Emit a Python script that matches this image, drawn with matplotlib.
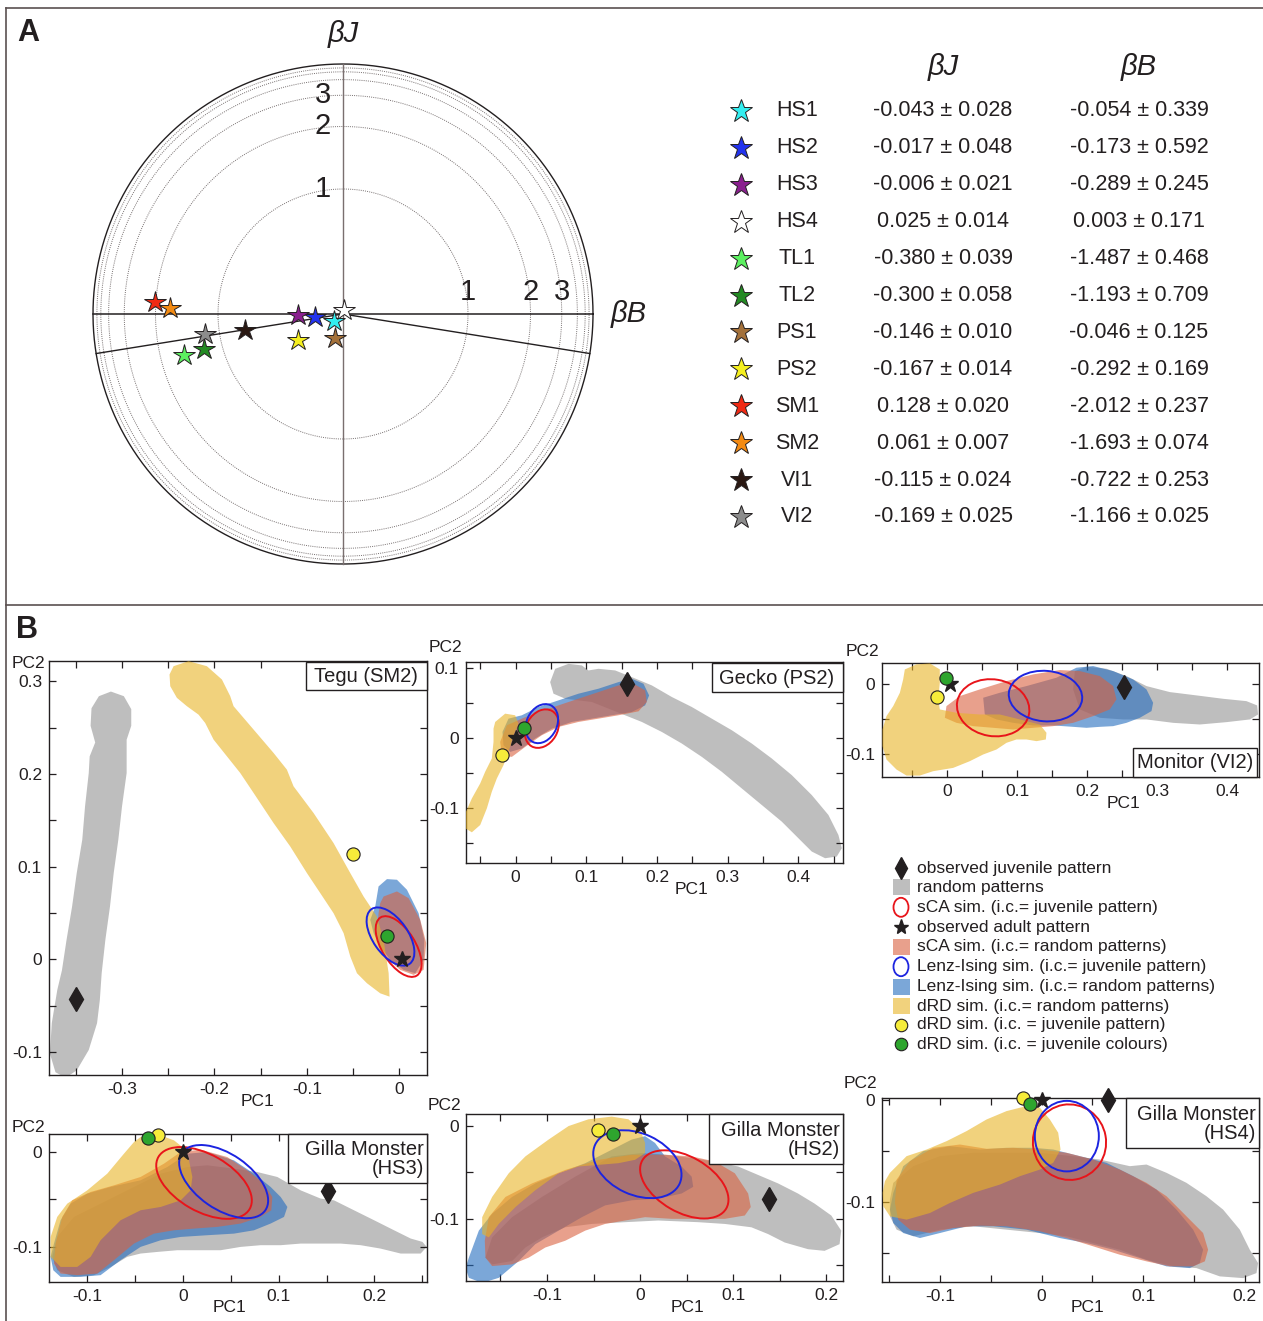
import numpy as np
import matplotlib.pyplot as plt
from matplotlib.patches import Polygon, Ellipse, Rectangle
from matplotlib.ticker import MultipleLocator, FuncFormatter

plt.rcParams['font.family'] = ['Liberation Sans', 'DejaVu Sans']
plt.rcParams['axes.unicode_minus'] = False

W, H = 1263, 1321
INK = '#231f20'
FRAME = '#5a5050'

# ---------------- panel A data ----------------
names = ['HS1', 'HS2', 'HS3', 'HS4', 'TL1', 'TL2', 'PS1', 'PS2', 'SM1', 'SM2', 'VI1', 'VI2']
beta_j = [-0.043, -0.017, -0.006, 0.025, -0.380, -0.300, -0.146, -0.167, 0.128, 0.061, -0.115, -0.169]
beta_j_err = [0.028, 0.048, 0.021, 0.014, 0.039, 0.058, 0.010, 0.014, 0.020, 0.007, 0.024, 0.025]
beta_b = [-0.054, -0.173, -0.289, 0.003, -1.487, -1.193, -0.046, -0.292, -2.012, -1.693, -0.722, -1.166]
beta_b_err = [0.339, 0.592, 0.245, 0.171, 0.468, 0.709, 0.125, 0.169, 0.237, 0.074, 0.253, 0.025]
star_colors = ['#33eef0', '#2233ee', '#8a1f8f', '#ffffff', '#5cf060', '#238a23',
               '#a4713a', '#f5ef1e', '#f02a14', '#f38a12', '#2a1812', '#8c8c8c']
ring_values = [1, 2, 3, 4, 5, 6]
ring_labels = [1, 2, 3]

# ---------------- panel B data (PC1, PC2) ----------------
tegu_gray = [(-0.312, 0.289), (-0.298, 0.284), (-0.290, 0.270), (-0.290, 0.252), (-0.295, 0.237),
             (-0.295, 0.223), (-0.295, 0.201), (-0.300, 0.165), (-0.304, 0.129), (-0.309, 0.093),
             (-0.313, 0.057), (-0.318, 0.021), (-0.322, -0.015), (-0.324, -0.044), (-0.327, -0.069),
             (-0.336, -0.098), (-0.349, -0.120), (-0.361, -0.128), (-0.372, -0.122), (-0.378, -0.102),
             (-0.376, -0.069), (-0.370, -0.033), (-0.365, -0.012), (-0.360, 0.021), (-0.354, 0.057),
             (-0.349, 0.093), (-0.343, 0.129), (-0.340, 0.165), (-0.336, 0.201), (-0.335, 0.219),
             (-0.329, 0.234), (-0.334, 0.252), (-0.333, 0.271), (-0.325, 0.284)]
tegu_yellow = [(-0.2486, 0.3074), (-0.2442, 0.3164), (-0.2280, 0.3218), (-0.2082, 0.3164), (-0.1919, 0.3020),
               (-0.1829, 0.2840), (-0.1793, 0.2732), (-0.1576, 0.2479), (-0.1360, 0.2227), (-0.1216, 0.2047),
               (-0.1144, 0.1867), (-0.0927, 0.1578), (-0.0711, 0.1254), (-0.0530, 0.0930), (-0.0386, 0.0677),
               (-0.0242, 0.0461), (-0.0170, 0.0209), (-0.0115, -0.0151), (-0.0105, -0.0404), (-0.0206, -0.0368),
               (-0.0350, -0.0259), (-0.0458, -0.0151), (-0.0530, 0.0029), (-0.0602, 0.0281), (-0.0711, 0.0497),
               (-0.0855, 0.0714), (-0.0999, 0.0930), (-0.1180, 0.1218), (-0.1360, 0.1470), (-0.1576, 0.1795),
               (-0.1721, 0.2011), (-0.1865, 0.2191), (-0.2009, 0.2371), (-0.2100, 0.2551), (-0.2172, 0.2641),
               (-0.2298, 0.2732), (-0.2406, 0.2822), (-0.2478, 0.2948)]
tegu_blue = [(-0.0224, 0.0786), (-0.0133, 0.0865), (-0.0025, 0.0858), (0.0083, 0.0750), (0.0209, 0.0497),
             (0.0271, 0.0209), (0.0263, -0.0007), (0.0173, -0.0151), (0.0047, -0.0115), (-0.0097, -0.0007),
             (-0.0206, 0.0137), (-0.0278, 0.0281), (-0.0314, 0.0425), (-0.0260, 0.0569), (-0.0242, 0.0677)]
tegu_red = [(-0.0170, 0.0677), (-0.0025, 0.0732), (0.0101, 0.0659), (0.0227, 0.0425), (0.0292, 0.0173),
            (0.0263, -0.0115), (0.0155, -0.0169), (0.0011, -0.0115), (-0.0115, -0.0007), (-0.0206, 0.0137),
            (-0.0242, 0.0281), (-0.0224, 0.0497), (-0.0206, 0.0605)]
tegu_sca_ring = (-0.0007, 0.0137, 0.074, 0.036, -58)
tegu_ising_ring = (-0.0095, 0.0245, 0.072, 0.038, -55)
tegu_points = {'juvenile': (-0.350, -0.043), 'adult': (0.003, 0.0),
               'drd_pattern': (-0.0505, 0.114), 'drd_colours': (-0.013, 0.025)}

gecko_gray = [(0.0490, 0.0794), (0.0561, 0.0983), (0.0749, 0.1054), (0.0938, 0.1031), (0.1032, 0.0960),
              (0.1173, 0.0983), (0.1409, 0.0960), (0.1644, 0.0865), (0.1927, 0.0747), (0.2210, 0.0582),
              (0.2492, 0.0440), (0.2775, 0.0274), (0.3058, 0.0109), (0.3340, -0.0080), (0.3623, -0.0293),
              (0.3906, -0.0530), (0.4188, -0.0813), (0.4424, -0.1097), (0.4565, -0.1381), (0.4613, -0.1570),
              (0.4542, -0.1688), (0.4377, -0.1712), (0.4188, -0.1617), (0.4000, -0.1428), (0.3764, -0.1191),
              (0.3482, -0.0955), (0.3199, -0.0719), (0.2916, -0.0482), (0.2634, -0.0270), (0.2351, -0.0080),
              (0.2068, 0.0085), (0.1786, 0.0227), (0.1550, 0.0322), (0.1079, 0.0511), (0.0702, 0.0558),
              (0.0537, 0.0629)]
gecko_blue = [(-0.0184, 0.0085), (-0.0099, 0.0274), (0.0090, 0.0322), (0.0325, 0.0440), (0.0608, 0.0534),
              (0.0890, 0.0629), (0.1173, 0.0700), (0.1456, 0.0794), (0.1644, 0.0842), (0.1809, 0.0771),
              (0.1889, 0.0605), (0.1833, 0.0463), (0.1644, 0.0369), (0.1362, 0.0322), (0.1079, 0.0274),
              (0.0796, 0.0227), (0.0514, 0.0132), (0.0278, -0.0009), (0.0090, -0.0151), (-0.0075, -0.0199),
              (-0.0170, -0.0104)]
gecko_red = [(-0.0217, -0.0057), (-0.0122, 0.0180), (0.0090, 0.0274), (0.0325, 0.0369), (0.0608, 0.0463),
             (0.0890, 0.0558), (0.1173, 0.0652), (0.1456, 0.0747), (0.1668, 0.0771), (0.1833, 0.0676),
             (0.1856, 0.0511), (0.1739, 0.0378), (0.1456, 0.0322), (0.1173, 0.0274), (0.0890, 0.0227),
             (0.0608, 0.0156), (0.0372, 0.0038), (0.0137, -0.0128), (-0.0052, -0.0270), (-0.0193, -0.0246)]
gecko_yellow = [(-0.0311, 0.0132), (-0.0287, 0.0227), (-0.0146, 0.0345), (-0.0005, 0.0322), (0.0042, 0.0203),
                (-0.0028, 0.0038), (-0.0099, -0.0199), (-0.0170, -0.0388), (-0.0264, -0.0577), (-0.0335, -0.0766),
                (-0.0405, -0.1002), (-0.0499, -0.1239), (-0.0617, -0.1343), (-0.0711, -0.1286), (-0.0721, -0.1097),
                (-0.0617, -0.0861), (-0.0499, -0.0648), (-0.0429, -0.0482), (-0.0335, -0.0293), (-0.0311, -0.0057)]
gecko_sca_ring = (0.0372, 0.0132, 0.058, 0.044, 60)
gecko_ising_ring = (0.0372, 0.0203, 0.058, 0.043, 65)
gecko_points = {'juvenile': (0.157, 0.077), 'adult': (0.0, 0.0),
                'drd_pattern': (-0.019, -0.024), 'drd_colours': (0.012, 0.014)}

monitor_yellow = [(-0.0604, 0.0217), (-0.0438, 0.0290), (-0.0247, 0.0304), (-0.0105, 0.0217), (-0.0105, 0.0024),
                  (-0.0128, -0.0217), (-0.0105, -0.0362), (0.0133, -0.0411), (0.0466, -0.0435), (0.0751, -0.0435),
                  (0.1037, -0.0507), (0.1322, -0.0580), (0.1417, -0.0700), (0.1408, -0.0797), (0.1275, -0.0821),
                  (0.1132, -0.0797), (0.0989, -0.0797), (0.0847, -0.0845), (0.0704, -0.0942), (0.0514, -0.1014),
                  (0.0323, -0.1111), (0.0086, -0.1208), (-0.0200, -0.1256), (-0.0390, -0.1319), (-0.0580, -0.1319),
                  (-0.0723, -0.1232), (-0.0866, -0.1087), (-0.0923, -0.0894), (-0.0923, -0.0652), (-0.0866, -0.0459),
                  (-0.0770, -0.0314), (-0.0675, -0.0121), (-0.0628, 0.0072)]
monitor_red = [(-0.0033, -0.0483), (-0.0010, -0.0314), (0.0181, -0.0169), (0.0466, -0.0072), (0.0847, 0.0048),
               (0.1227, 0.0145), (0.1608, 0.0208), (0.1893, 0.0193), (0.2178, 0.0121), (0.2369, -0.0024),
               (0.2416, -0.0217), (0.2321, -0.0362), (0.2083, -0.0459), (0.1798, -0.0556), (0.1512, -0.0604),
               (0.1227, -0.0628), (0.0942, -0.0652), (0.0656, -0.0628), (0.0371, -0.0604), (0.0133, -0.0556)]
monitor_blue = [(0.0514, -0.0193), (0.0751, -0.0121), (0.1132, -0.0024), (0.1560, 0.0097), (0.1845, 0.0242),
                (0.2083, 0.0266), (0.2369, 0.0193), (0.2654, 0.0072), (0.2844, -0.0072), (0.2939, -0.0266),
                (0.2916, -0.0386), (0.2749, -0.0483), (0.2559, -0.0556), (0.2369, -0.0604), (0.2178, -0.0614),
                (0.1988, -0.0628), (0.1798, -0.0614), (0.1512, -0.0594), (0.1227, -0.0594), (0.0942, -0.0556),
                (0.0704, -0.0507), (0.0537, -0.0435)]
monitor_gray = [(0.1822, 0.0193), (0.1988, 0.0256), (0.2273, 0.0227), (0.2559, 0.0121), (0.2844, -0.0024),
                (0.3177, -0.0111), (0.3558, -0.0159), (0.3938, -0.0208), (0.4271, -0.0242), (0.4423, -0.0304),
                (0.4437, -0.0435), (0.4319, -0.0507), (0.3986, -0.0546), (0.3605, -0.0580), (0.3225, -0.0556),
                (0.2844, -0.0507), (0.2511, -0.0507), (0.2178, -0.0483), (0.1893, -0.0362), (0.1798, -0.0072)]
monitor_sca_ring = (0.0656, -0.0338, 0.104, 0.082, -10)
monitor_ising_ring = (0.1403, -0.0169, 0.105, 0.073, -5)
monitor_points = {'juvenile': (0.252, -0.004), 'adult': (0.004, 0.0),
                  'drd_pattern': (-0.014, -0.018), 'drd_colours': (-0.002, 0.009)}

hs3_gray = [(0.0045, -0.0158), (0.0254, -0.0140), (0.0533, -0.0175), (0.0777, -0.0211), (0.0986, -0.0263),
            (0.1230, -0.0404), (0.1439, -0.0491), (0.1578, -0.0509), (0.1787, -0.0614), (0.1997, -0.0719),
            (0.2206, -0.0825), (0.2380, -0.0912), (0.2502, -0.0947), (0.2547, -0.1000), (0.2484, -0.1070),
            (0.2275, -0.1070), (0.2066, -0.1018), (0.1857, -0.0982), (0.1648, -0.0965), (0.1439, -0.0965),
            (0.1230, -0.0965), (0.1021, -0.0982), (0.0812, -0.0982), (0.0603, -0.1000), (0.0394, -0.1035),
            (0.0185, -0.1035), (-0.0059, -0.1035), (-0.0268, -0.1053), (-0.0443, -0.1070), (-0.0582, -0.1105),
            (-0.0756, -0.1211), (-0.0930, -0.1298), (-0.1139, -0.1316), (-0.1314, -0.1246), (-0.1366, -0.1105),
            (-0.1314, -0.0895), (-0.1139, -0.0684), (-0.0861, -0.0544), (-0.0512, -0.0368), (-0.0233, -0.0228)]
hs3_blue = [(-0.1383, -0.1105), (-0.1348, -0.0965), (-0.1279, -0.0719), (-0.1174, -0.0544), (-0.1000, -0.0439),
            (-0.0756, -0.0368), (-0.0443, -0.0298), (-0.0164, -0.0158), (0.0045, -0.0018), (0.0254, 0.0),
            (0.0533, -0.0088), (0.0742, -0.0228), (0.0916, -0.0368), (0.1021, -0.0474), (0.1091, -0.0579),
            (0.1056, -0.0684), (0.0916, -0.0754), (0.0742, -0.0825), (0.0533, -0.0860), (0.0254, -0.0877),
            (-0.0024, -0.0895), (-0.0233, -0.0930), (-0.0443, -0.1000), (-0.0652, -0.1140), (-0.0861, -0.1298),
            (-0.1070, -0.1316), (-0.1279, -0.1316), (-0.1355, -0.1246)]
hs3_red = [(-0.1348, -0.1175), (-0.1331, -0.0965), (-0.1261, -0.0684), (-0.1157, -0.0509), (-0.0965, -0.0421),
           (-0.0721, -0.0351), (-0.0443, -0.0263), (-0.0199, -0.0123), (-0.0024, 0.0), (0.0185, 0.0025),
           (0.0463, -0.0053), (0.0672, -0.0193), (0.0847, -0.0333), (0.0934, -0.0474), (0.0923, -0.0614),
           (0.0812, -0.0684), (0.0603, -0.0754), (0.0359, -0.0789), (0.0115, -0.0807), (-0.0094, -0.0825),
           (-0.0303, -0.0860), (-0.0512, -0.0965), (-0.0721, -0.1140), (-0.0895, -0.1281), (-0.1105, -0.1298),
           (-0.1279, -0.1281)]
hs3_yellow = [(-0.0512, 0.0105), (-0.0443, 0.0158), (-0.0233, 0.0175), (-0.0094, 0.0123), (-0.0007, 0.0053),
              (0.0063, -0.0088), (0.0098, -0.0263), (0.0080, -0.0404), (-0.0024, -0.0509), (-0.0233, -0.0579),
              (-0.0443, -0.0614), (-0.0652, -0.0719), (-0.0861, -0.0930), (-0.0965, -0.1105), (-0.1105, -0.1211),
              (-0.1279, -0.1211), (-0.1383, -0.1105), (-0.1383, -0.0895), (-0.1314, -0.0684), (-0.1209, -0.0544),
              (-0.1000, -0.0404), (-0.0791, -0.0228), (-0.0617, -0.0018)]
hs3_sca_ring = (0.0220, -0.0326, 0.110, 0.060, -30)
hs3_ising_ring = (0.0425, -0.0312, 0.106, 0.058, -35)
hs3_points = {'juvenile': (0.152, -0.041), 'adult': (0.0, 0.0),
              'drd_pattern': (-0.026, 0.018), 'drd_colours': (-0.037, 0.015)}

hs2_gray = [(-0.0696, -0.0545), (-0.0304, -0.0327), (0.0018, -0.0291), (0.0268, -0.0309), (0.0554, -0.0345),
            (0.0804, -0.0382), (0.1054, -0.0436), (0.1268, -0.0527), (0.1482, -0.0618), (0.1696, -0.0727),
            (0.1875, -0.0836), (0.2054, -0.0964), (0.2161, -0.1127), (0.2143, -0.1273), (0.1982, -0.1345),
            (0.1804, -0.1327), (0.1554, -0.1255), (0.1375, -0.1164), (0.1196, -0.1091), (0.0911, -0.1055),
            (0.0625, -0.1036), (0.0196, -0.1018), (-0.0161, -0.1036), (-0.0518, -0.1055), (-0.0804, -0.1091),
            (-0.1054, -0.1200), (-0.1232, -0.1309), (-0.1375, -0.1455), (-0.1589, -0.1491), (-0.1661, -0.1418),
            (-0.1589, -0.1200), (-0.1375, -0.0982), (-0.1054, -0.0764)]
hs2_blue = [(-0.1875, -0.1527), (-0.1839, -0.1418), (-0.1732, -0.1127), (-0.1589, -0.0945), (-0.1375, -0.0764),
            (-0.1125, -0.0618), (-0.0875, -0.0509), (-0.0589, -0.0400), (-0.0304, -0.0255), (-0.0089, -0.0145),
            (0.0054, -0.0109), (0.0161, -0.0182), (0.0268, -0.0327), (0.0446, -0.0436), (0.0554, -0.0545),
            (0.0571, -0.0655), (0.0446, -0.0727), (0.0196, -0.0782), (-0.0089, -0.0800), (-0.0375, -0.0855),
            (-0.0625, -0.0982), (-0.0875, -0.1127), (-0.1125, -0.1273), (-0.1304, -0.1455), (-0.1518, -0.1636),
            (-0.1696, -0.1691), (-0.1839, -0.1636)]
hs2_red = [(-0.1668, -0.1236), (-0.1625, -0.0982), (-0.1446, -0.0764), (-0.1161, -0.0618), (-0.0804, -0.0473),
           (-0.0446, -0.0364), (-0.0089, -0.0309), (0.0268, -0.0309), (0.0554, -0.0327), (0.0804, -0.0382),
           (0.1018, -0.0509), (0.1161, -0.0727), (0.1189, -0.0873), (0.1125, -0.0964), (0.0911, -0.1000),
           (0.0625, -0.1000), (0.0339, -0.1000), (0.0054, -0.0982), (-0.0161, -0.1018), (-0.0375, -0.1055),
           (-0.0589, -0.1127), (-0.0804, -0.1236), (-0.1018, -0.1309), (-0.1196, -0.1418), (-0.1375, -0.1491),
           (-0.1589, -0.1509), (-0.1661, -0.1418)]
hs2_yellow = [(-0.1589, -0.0764), (-0.1411, -0.0509), (-0.1232, -0.0327), (-0.0982, -0.0145), (-0.0768, 0.0),
              (-0.0554, 0.0073), (-0.0304, 0.0102), (-0.0125, 0.0073), (0.0, -0.0036), (0.0054, -0.0182),
              (0.0054, -0.0291), (-0.0054, -0.0364), (-0.0232, -0.0400), (-0.0446, -0.0418), (-0.0661, -0.0436),
              (-0.0875, -0.0509), (-0.1125, -0.0691), (-0.1339, -0.0873), (-0.1518, -0.1055), (-0.1625, -0.1200),
              (-0.1696, -0.1164), (-0.1696, -0.0982)]
hs2_sca_ring = (0.0475, -0.0629, 0.104, 0.060, -30)
hs2_ising_ring = (-0.0029, -0.0411, 0.100, 0.066, -25)
hs2_points = {'juvenile': (0.139, -0.079), 'adult': (0.0, 0.0),
              'drd_pattern': (-0.045, -0.004), 'drd_colours': (-0.029, -0.009)}

hs4_gray = [(-0.1459, -0.0810), (-0.1262, -0.0647), (-0.1000, -0.0549), (-0.0672, -0.0516), (-0.0344, -0.0516),
            (-0.0016, -0.0516), (0.0311, -0.0549), (0.0574, -0.0582), (0.0869, -0.0647), (0.1033, -0.0631),
            (0.1230, -0.0712), (0.1426, -0.0810), (0.1623, -0.0941), (0.1787, -0.1072), (0.1951, -0.1268),
            (0.2049, -0.1464), (0.2131, -0.1595), (0.2115, -0.1693), (0.1984, -0.1742), (0.1754, -0.1725),
            (0.1525, -0.1644), (0.1295, -0.1627), (0.1033, -0.1562), (0.0770, -0.1464), (0.0508, -0.1399),
            (0.0246, -0.1333), (-0.0016, -0.1301), (-0.0344, -0.1268), (-0.0672, -0.1235), (-0.1000, -0.1268),
            (-0.1262, -0.1333), (-0.1426, -0.1268), (-0.1492, -0.1137), (-0.1492, -0.0974)]
hs4_blue = [(-0.1492, -0.1072), (-0.1459, -0.0908), (-0.1361, -0.0647), (-0.1164, -0.0500), (-0.0902, -0.0451),
            (-0.0607, -0.0484), (-0.0344, -0.0467), (-0.0082, -0.0467), (0.0115, -0.0484), (0.0377, -0.0549),
            (0.0639, -0.0614), (0.0902, -0.0745), (0.1131, -0.0876), (0.1328, -0.1072), (0.1492, -0.1268),
            (0.1590, -0.1464), (0.1557, -0.1595), (0.1459, -0.1644), (0.1230, -0.1627), (0.0967, -0.1546),
            (0.0705, -0.1464), (0.0443, -0.1399), (0.0180, -0.1350), (-0.0148, -0.1268), (-0.0475, -0.1235),
            (-0.0738, -0.1235), (-0.1000, -0.1301), (-0.1197, -0.1350), (-0.1361, -0.1301), (-0.1459, -0.1203)]
hs4_red = [(-0.1443, -0.1007), (-0.1426, -0.0778), (-0.1295, -0.0598), (-0.1066, -0.0467), (-0.0803, -0.0435),
           (-0.0541, -0.0477), (-0.0279, -0.0467), (-0.0016, -0.0484), (0.0246, -0.0516), (0.0508, -0.0582),
           (0.0770, -0.0680), (0.1033, -0.0810), (0.1230, -0.0941), (0.1426, -0.1137), (0.1590, -0.1301),
           (0.1639, -0.1464), (0.1607, -0.1578), (0.1492, -0.1627), (0.1262, -0.1627), (0.1033, -0.1578),
           (0.0770, -0.1513), (0.0508, -0.1431), (0.0246, -0.1350), (-0.0016, -0.1284), (-0.0344, -0.1235),
           (-0.0607, -0.1229), (-0.0869, -0.1252), (-0.1098, -0.1301), (-0.1295, -0.1268), (-0.1410, -0.1170)]
hs4_yellow = [(-0.1541, -0.0794), (-0.1492, -0.0712), (-0.1328, -0.0549), (-0.1131, -0.0484), (-0.0934, -0.0402),
              (-0.0738, -0.0304), (-0.0541, -0.0190), (-0.0344, -0.0108), (-0.0148, -0.0059), (-0.0016, -0.0075),
              (0.0082, -0.0190), (0.0164, -0.0320), (0.0187, -0.0484), (0.0115, -0.0614), (-0.0016, -0.0680),
              (-0.0213, -0.0745), (-0.0410, -0.0827), (-0.0672, -0.0908), (-0.0902, -0.1007), (-0.1098, -0.1105),
              (-0.1328, -0.1170), (-0.1492, -0.1137), (-0.1557, -0.1039), (-0.1564, -0.0908)]
hs4_sca_ring = (0.0275, -0.0412, 0.072, 0.074, 10)
hs4_ising_ring = (0.0249, -0.0353, 0.063, 0.069, 0)
hs4_points = {'juvenile': (0.065, 0.0), 'adult': (0.0, 0.0),
              'drd_pattern': (-0.018, 0.002), 'drd_colours': (-0.011, -0.004)}

legend_labels = ['observed juvenile pattern', 'random patterns', 'sCA sim. (i.c.= juvenile pattern)',
                 'observed adult pattern', 'sCA sim. (i.c.= random patterns)',
                 'Lenz-Ising sim. (i.c.= juvenile pattern)', 'Lenz-Ising sim. (i.c.= random patterns)',
                 'dRD sim. (i.c.= random patterns)', 'dRD sim. (i.c. = juvenile pattern)',
                 'dRD sim. (i.c. = juvenile colours)']

# ---------------- styles ----------------
GRAY = (0.576, 0.576, 0.576, 0.6)
BLUE = (0.137, 0.424, 0.745, 0.6)
SALMON = (0.855, 0.380, 0.247, 0.6)
YELLOW = (0.914, 0.706, 0.149, 0.6)
RING_RED = '#e8141a'
RING_BLUE = '#1c24e0'
DOT_YELLOW = '#f6ec3a'
DOT_GREEN = '#2ea52e'


def to_fig(l, t, r, b):
    return [l / W, 1 - b / H, (r - l) / W, (b - t) / H]


fig = plt.figure(figsize=(W / 100, H / 100), dpi=100)

# ---------------- panel A: radial diagram ----------------
axa = fig.add_axes(to_fig(68, 39, 618, 589))
axa.set_xlim(-1.1, 1.1)
axa.set_ylim(-1.1, 1.1)
axa.axis('off')


def rho(r):
    return 1 - 2.0 ** (-np.asarray(r, dtype=float))


t = np.linspace(0, 2 * np.pi, 400)
for rv in ring_values:
    axa.plot(rho(rv) * np.cos(t), rho(rv) * np.sin(t), ls=(0, (1, 1.2)), color='#777070', lw=0.7)
axa.plot(np.cos(t), np.sin(t), color=INK, lw=1.0)
axa.plot([-1, 1], [0, 0], color=INK, lw=1.1)
axa.plot([0, 0], [-1, 1], color='#7a6f6f', lw=1.0)
tilt = np.deg2rad(9.1)
axa.plot([-np.cos(tilt), 0, np.cos(tilt)], [-np.sin(tilt), 0, -np.sin(tilt)], color=INK, lw=1.0)
for k in ring_labels:
    axa.text(rho(k), 0.09, str(k), ha='center', va='center', fontsize=21, color=INK)
    axa.text(-0.08, rho(k), str(k), ha='center', va='center', fontsize=21, color=INK)

bj = np.array(beta_j)
bb = np.array(beta_b)
rad = np.hypot(bj, bb)
sx = rho(rad) * bb / rad
sy = rho(rad) * bj / rad
for i in range(len(names)):
    axa.plot(sx[i], sy[i], marker='*', ms=16, mfc=star_colors[i], mec=INK, mew=0.7, ls='none', zorder=5)

# ---------------- panel B ----------------
def tick_fmt(v, pos):
    return '0' if abs(v) < 1e-9 else f'{v:.1f}'


def pc_axes(px_box, xlim, ylim):
    ax = fig.add_axes(to_fig(*px_box))
    ax.set_xlim(xlim)
    ax.set_ylim(ylim)
    for axis in (ax.xaxis, ax.yaxis):
        axis.set_major_locator(MultipleLocator(0.1))
        axis.set_minor_locator(MultipleLocator(0.05))
        axis.set_major_formatter(FuncFormatter(tick_fmt))
    ax.tick_params(which='both', direction='in', length=5, width=0.9, top=True, right=True,
                   color=INK, labelcolor=INK, labelsize=12.5, pad=5)
    for sp in ax.spines.values():
        sp.set_color(INK)
        sp.set_linewidth(1.0)
    return ax


def draw_panel(ax, gray, blue, red, yellow, sca_ring, ising_ring, pts):
    for verts, col, z in ((gray, GRAY, 1), (blue, BLUE, 2), (red, SALMON, 3), (yellow, YELLOW, 4)):
        ax.add_patch(Polygon(verts, closed=True, fc=col, ec='none', zorder=z))
    for ring, col in ((sca_ring, RING_RED), (ising_ring, RING_BLUE)):
        cx, cy, w, h, ang = ring
        ax.add_patch(Ellipse((cx, cy), w, h, angle=ang, fill=False, ec=col, lw=1.4, zorder=5))
    ax.plot(*pts['juvenile'], marker='d', ms=12, color=INK, ls='none', zorder=6, clip_on=False)
    ax.plot(*pts['adult'], marker='*', ms=12, color=INK, ls='none', zorder=6, clip_on=False)
    ax.plot(*pts['drd_pattern'], marker='o', ms=9.5, mfc=DOT_YELLOW, mec=INK, mew=0.8, ls='none',
            zorder=6, clip_on=False)
    ax.plot(*pts['drd_colours'], marker='o', ms=9.5, mfc=DOT_GREEN, mec=INK, mew=0.8, ls='none',
            zorder=6, clip_on=False)


ax_tegu = pc_axes((49, 661, 427, 1075), (-0.379, 0.030), (-0.125, 0.322))
draw_panel(ax_tegu, tegu_gray, tegu_blue, tegu_red, tegu_yellow, tegu_sca_ring, tegu_ising_ring, tegu_points)

ax_gecko = pc_axes((466, 662, 843, 863), (-0.070, 0.463), (-0.178, 0.108))
draw_panel(ax_gecko, gecko_gray, gecko_blue, gecko_red, gecko_yellow, gecko_sca_ring, gecko_ising_ring,
           gecko_points)

ax_mon = pc_axes((882, 663, 1259, 777), (-0.093, 0.445), (-0.134, 0.031))
draw_panel(ax_mon, monitor_gray, monitor_blue, monitor_red, monitor_yellow, monitor_sca_ring,
           monitor_ising_ring, monitor_points)

ax_hs3 = pc_axes((49, 1134, 427, 1282), (-0.140, 0.255), (-0.137, 0.019))
draw_panel(ax_hs3, hs3_gray, hs3_blue, hs3_red, hs3_yellow, hs3_sca_ring, hs3_ising_ring, hs3_points)

ax_hs2 = pc_axes((466, 1114, 843, 1281), (-0.187, 0.218), (-0.167, 0.013))
draw_panel(ax_hs2, hs2_gray, hs2_blue, hs2_red, hs2_yellow, hs2_sca_ring, hs2_ising_ring, hs2_points)

ax_hs4 = pc_axes((882, 1098, 1259, 1282), (-0.157, 0.214), (-0.178, 0.002))
draw_panel(ax_hs4, hs4_gray, hs4_blue, hs4_red, hs4_yellow, hs4_sca_ring, hs4_ising_ring, hs4_points)

# ---------------- overlay in pixel units: frames, texts, table, legend ----------------
ov = fig.add_axes([0, 0, 1, 1])
ov.set_xlim(0, W)
ov.set_ylim(H, 0)
ov.axis('off')

ov.plot([5.5, W], [7.5, 7.5], color=FRAME, lw=1.2)
ov.plot([5.5, 5.5], [7.5, H], color=FRAME, lw=1.2)
ov.plot([5.5, W], [604.5, 604.5], color=FRAME, lw=1.2)
ov.text(28, 33, 'A', fontsize=22, fontweight='bold', ha='center', va='center', color=INK)
ov.text(27, 630, 'B', fontsize=22, fontweight='bold', ha='center', va='center', color=INK)

ov.text(343, 34, 'βJ', fontsize=21, style='italic', ha='center', va='center', color=INK)
ov.text(629, 314, 'βB', fontsize=21, style='italic', ha='center', va='center', color=INK)

# table of fitted parameters
ov.text(943, 67, 'βJ', fontsize=21, style='italic', ha='center', va='center', color=INK)
ov.text(1139, 67, 'βB', fontsize=21, style='italic', ha='center', va='center', color=INK)
for i, nm in enumerate(names):
    y = 111 + i * 36.9
    ov.plot(741, y, marker='*', ms=17, mfc=star_colors[i], mec=INK, mew=0.7, ls='none')
    ov.text(797, y, nm, fontsize=15.5, ha='center', va='center', color=INK)
    ov.text(943, y, f'{beta_j[i]:.3f} ± {beta_j_err[i]:.3f}', fontsize=15.5, ha='center', va='center',
            color=INK)
    ov.text(1139, y, f'{beta_b[i]:.3f} ± {beta_b_err[i]:.3f}', fontsize=15.5, ha='center', va='center',
            color=INK)

# panel name boxes
name_boxes = [((306, 662, 427, 690), (366, 677), 'Tegu (SM2)', 'center'),
              ((712, 663, 843, 692), (777, 678), 'Gecko (PS2)', 'center'),
              ((1133, 748, 1257, 777), (1195, 763), 'Monitor (VI2)', 'center'),
              ((288, 1134, 427, 1183), (424, 1159), 'Gilla Monster\n(HS3)', 'right'),
              ((709, 1114, 843, 1164), (840, 1140), 'Gilla Monster\n(HS2)', 'right'),
              ((1126, 1098, 1259, 1148), (1256, 1124), 'Gilla Monster\n(HS4)', 'right')]
for (l, t_, r, b), (tx, ty), label, ha in name_boxes:
    ov.add_patch(Rectangle((l, t_), r - l, b - t_, fc='white', ec=INK, lw=1.0, zorder=3))
    ov.text(tx, ty, label, fontsize=14.5, ha=ha, va='center', ma='right', color=INK, zorder=4,
            linespacing=1.0)

pc2_pos = [(28, 663), (445, 647), (862, 652), (28, 1128), (444, 1105), (860, 1083)]
pc1_pos = [(257, 1101), (692, 890), (1123, 804), (230, 1307), (687, 1307), (1088, 1307)]
for x, y in pc2_pos:
    ov.text(x, y, 'PC2', fontsize=12.5, ha='center', va='center', color=INK)
for x, y in pc1_pos:
    ov.text(x, y, 'PC1', fontsize=12.5, ha='center', va='center', color=INK)

# legend
leg_y = [868.3, 887.3, 907.3, 927.3, 946.7, 966.7, 986.7, 1006, 1025, 1044.3]
for y, lab in zip(leg_y, legend_labels):
    ov.text(917, y, lab, fontsize=12.5, ha='left', va='center', color=INK)
ov.plot(901, leg_y[0], marker='d', ms=11, color=INK, ls='none')
ov.plot(901, leg_y[3], marker='*', ms=11, color=INK, ls='none')
ov.plot(901, leg_y[8], marker='o', ms=9, mfc=DOT_YELLOW, mec=INK, mew=0.8, ls='none')
ov.plot(901, leg_y[9], marker='o', ms=9, mfc=DOT_GREEN, mec=INK, mew=0.8, ls='none')
for y, col in ((leg_y[1], GRAY), (leg_y[4], SALMON), (leg_y[6], BLUE), (leg_y[7], YELLOW)):
    ov.add_patch(Rectangle((893, y - 8), 17, 16, fc=col, ec='none'))
ov.add_patch(Ellipse((901, leg_y[2]), 15, 19, fill=False, ec=RING_RED, lw=1.3))
ov.add_patch(Ellipse((901, leg_y[5]), 15, 19, fill=False, ec=RING_BLUE, lw=1.3))

fig.savefig('out.png', dpi=100, facecolor='white')
